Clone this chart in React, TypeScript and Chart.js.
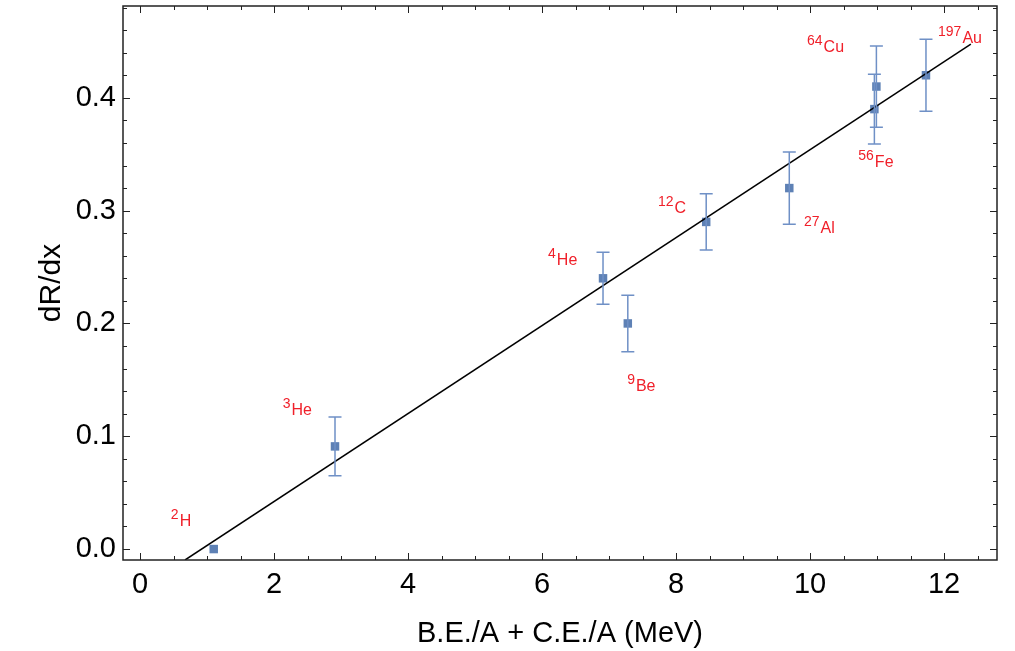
import { Chart, registerables } from "chart.js";
import { useEffect, useRef } from "react";

Chart.register(...registerables);

// nuclei
const massNumbers = ["2", "3", "4", "9", "12", "27", "56", "64", "197"];
const symbols = ["H", "He", "He", "Be", "C", "Al", "Fe", "Cu", "Au"];

// measured points (B.E./A + C.E./A, dR/dx) and errors
const xValues = [1.1, 2.91, 6.91, 7.28, 8.45, 9.69, 10.96, 10.99, 11.73];
const yValues = [0.0, 0.091, 0.24, 0.2, 0.29, 0.32, 0.39, 0.41, 0.42];
const yErrors = [0, 0.026, 0.023, 0.025, 0.025, 0.032, 0.031, 0.036, 0.032];

// label anchors (data coords)
const labelX = [0.46, 2.13, 6.09, 7.27, 7.73, 9.91, 10.72, 9.955, 11.91];
const labelY = [0.0204, 0.1186, 0.2522, 0.1398, 0.2982, 0.2805, 0.339, 0.4407, 0.4487];

// linear fit
const fitX = [0.672, 12.4];
const fitY = [-0.0097, 0.4475];

const xTicks = [0, 2, 4, 6, 8, 10, 12];
const yTicks = [0, 0.1, 0.2, 0.3, 0.4];

const FONT = '"Liberation Sans", Arial, sans-serif';
const BLUE = "#5e81b5";

const errorBars = {
    id: "errorBars",
    afterDatasetsDraw(chart: any) {
        const { ctx, scales: { x, y } } = chart;
        ctx.save();
        ctx.strokeStyle = "#6f90c6";
        ctx.lineWidth = 1.5;
        xValues.forEach((xv, i) => {
            if (!yErrors[i]) return;
            const px = x.getPixelForValue(xv);
            const top = y.getPixelForValue(yValues[i] + yErrors[i]);
            const bot = y.getPixelForValue(yValues[i] - yErrors[i]);
            ctx.beginPath();
            ctx.moveTo(px, top); ctx.lineTo(px, bot);
            ctx.moveTo(px - 6.5, top); ctx.lineTo(px + 6.5, top);
            ctx.moveTo(px - 6.5, bot); ctx.lineTo(px + 6.5, bot);
            ctx.stroke();
        });
        ctx.restore();
    }
};

const nucleusLabels = {
    id: "nucleusLabels",
    afterDatasetsDraw(chart: any) {
        const { ctx, scales: { x, y } } = chart;
        ctx.save();
        ctx.fillStyle = "#f0202a";
        ctx.textAlign = "left";
        ctx.textBaseline = "alphabetic";
        massNumbers.forEach((m, i) => {
            const px = x.getPixelForValue(labelX[i]);
            const py = y.getPixelForValue(labelY[i]);
            ctx.font = `14px ${FONT}`;
            ctx.fillText(m, px, py - 7);
            const w = ctx.measureText(m).width;
            ctx.font = `16px ${FONT}`;
            ctx.fillText(symbols[i], px + w + 1, py);
        });
        ctx.restore();
    }
};

// frame with inward ticks on all four sides
const frameTicks = {
    id: "frameTicks",
    afterDraw(chart: any) {
        const { ctx, chartArea: a, scales: { x, y } } = chart;
        ctx.save();
        ctx.strokeStyle = "#222";
        ctx.lineWidth = 1;
        ctx.beginPath();
        for (let v = 0; v <= 12.5 + 1e-9; v += 0.5) {
            const len = Math.abs(v % 2) < 1e-9 ? 7 : 4;
            const px = Math.round(x.getPixelForValue(v)) + 0.5;
            ctx.moveTo(px, a.bottom); ctx.lineTo(px, a.bottom - len);
            ctx.moveTo(px, a.top); ctx.lineTo(px, a.top + len);
        }
        for (let k = 0; k <= 24; k++) {
            const v = k * 0.02;
            const len = k % 5 === 0 ? 7 : 4;
            const py = Math.round(y.getPixelForValue(v)) + 0.5;
            ctx.moveTo(a.left, py); ctx.lineTo(a.left + len, py);
            ctx.moveTo(a.right, py); ctx.lineTo(a.right - len, py);
        }
        ctx.stroke();
        ctx.lineWidth = 1.5;
        ctx.strokeRect(a.left, a.top, a.right - a.left, a.bottom - a.top);
        ctx.restore();
    }
};

const ScatterChart = () => {
    const chartRef = useRef<HTMLCanvasElement>(null);

    useEffect(() => {
        document.body.style.margin = "0";
        if (!chartRef.current) return;
        const chart = new Chart(chartRef.current, {
            type: "scatter",
            data: {
                datasets: [
                    {
                        type: "line",
                        data: fitX.map((v, i) => ({ x: v, y: fitY[i] })),
                        borderColor: "#000",
                        borderWidth: 1.5,
                        pointRadius: 0,
                        fill: false
                    },
                    {
                        data: xValues.map((v, i) => ({ x: v, y: yValues[i] })),
                        pointStyle: "rect",
                        pointRadius: 6,
                        backgroundColor: BLUE,
                        borderColor: BLUE,
                        borderWidth: 0
                    }
                ]
            },
            options: {
                animation: false,
                responsive: true,
                maintainAspectRatio: false,
                layout: { padding: { top: 5, right: 18, left: 0, bottom: 0 } },
                plugins: { legend: { display: false }, tooltip: { enabled: false } },
                scales: {
                    x: {
                        type: "linear",
                        min: -0.254,
                        max: 12.79,
                        grid: { display: false, drawTicks: false },
                        border: { display: false },
                        afterBuildTicks: (s: any) => { s.ticks = xTicks.map((v) => ({ value: v })); },
                        afterFit: (s: any) => {
                            s.height = 91;
                            s.paddingLeft = 0;
                            s.paddingRight = 0;
                        },
                        ticks: {
                            padding: 8,
                            color: "#000",
                            font: { family: FONT, size: 29 },
                            callback: (v: any) => String(v)
                        },
                        title: {
                            display: true,
                            text: "B.E./A + C.E./A (MeV)",
                            color: "#000",
                            font: { family: FONT, size: 29 },
                            padding: { top: 3, bottom: 0 }
                        }
                    },
                    y: {
                        type: "linear",
                        min: -0.0097,
                        max: 0.4814,
                        grid: { display: false, drawTicks: false },
                        border: { display: false },
                        afterBuildTicks: (s: any) => { s.ticks = yTicks.map((v) => ({ value: v })); },
                        afterFit: (s: any) => {
                            s.width = 123;
                            s.paddingTop = 0;
                            s.paddingBottom = 0;
                        },
                        ticks: {
                            padding: 7,
                            color: "#000",
                            font: { family: FONT, size: 29 },
                            callback: (v: any) => Number(v).toFixed(1)
                        },
                        title: {
                            display: true,
                            text: "dR/dx",
                            color: "#000",
                            font: { family: FONT, size: 30 },
                            padding: { top: 34, bottom: 0 }
                        }
                    }
                }
            },
            plugins: [errorBars, nucleusLabels, frameTicks]
        } as any);
        return () => {
            chart.destroy();
        };
    }, []);

    return (
        <div style={{ position: "relative", width: 1015, height: 651 }}>
            <canvas ref={chartRef} />
        </div>
    );
};

export default function App() {
    return <ScatterChart />;
}
